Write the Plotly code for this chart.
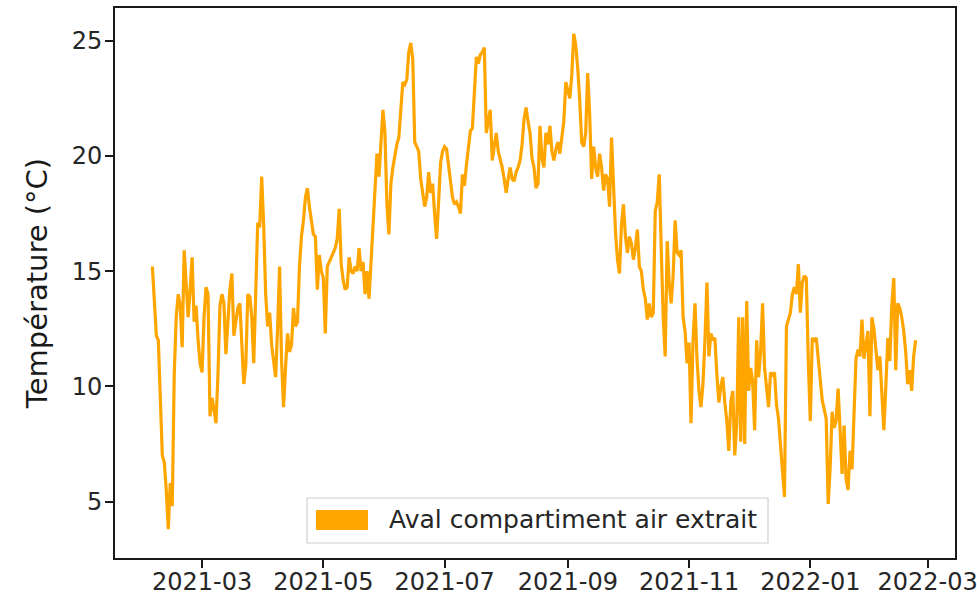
import pandas as pd
import plotly.graph_objects as go

# daily air temperature downstream of the extract air compartment (°C)
start_date = "2021-02-04"
temperature = [
    15.2, 13.6, 12.2, 12.0, 9.5, 7.0, 6.7, 5.5, 3.8, 5.8,
    4.8, 10.5, 13.0, 14.0, 13.5, 11.7, 15.9, 14.5, 13.0, 14.2,
    15.6, 12.8, 13.5, 12.0, 11.0, 10.6, 13.0, 14.3, 14.0, 8.7,
    9.5, 9.0, 8.4, 10.5, 13.5, 14.0, 13.6, 11.4, 13.0, 14.2,
    14.9, 12.2, 12.8, 13.4, 13.6, 11.7, 10.1, 10.9, 14.0, 13.9,
    13.0, 11.0, 14.5, 17.1, 16.9, 19.1, 17.0, 14.0, 12.6, 13.2,
    11.8, 11.1, 10.4, 12.5, 15.2, 11.1, 9.1, 10.8, 12.3, 11.5,
    11.8, 13.4, 12.6, 12.8, 15.2, 16.5, 17.2, 18.2, 18.6, 17.8,
    17.3, 16.6, 16.5, 14.2, 15.7, 15.0, 14.7, 12.3, 15.2, 15.4,
    15.6, 15.8, 16.0, 16.4, 17.7, 15.3, 14.6, 14.2, 14.3, 15.6,
    15.0, 14.9, 15.2, 15.0, 16.0, 15.0, 15.4, 14.0, 15.0, 13.8,
    15.4, 16.8, 18.5, 20.1, 19.1, 20.5, 22.0, 21.0, 17.9, 16.6,
    18.8, 19.5, 20.1, 20.5, 20.8, 21.8, 23.2, 23.1, 23.3, 24.5,
    24.9, 24.2, 20.6, 20.4, 20.2, 19.0, 18.5, 17.8, 18.2, 19.3,
    18.4, 18.8, 17.5, 16.4, 18.0, 19.7, 20.2, 20.4, 20.3, 19.5,
    18.8, 18.2, 17.9, 18.0, 17.8, 17.5, 19.2, 18.7, 19.6, 20.3,
    21.1, 21.2, 22.5, 24.3, 24.0, 24.4, 24.5, 24.7, 21.0, 21.5,
    22.0, 19.8, 20.4, 21.0, 20.2, 19.9, 19.5, 19.0, 18.4, 19.0,
    19.5, 19.0, 18.9, 19.3, 19.5, 19.8, 20.5, 21.6, 22.1, 21.5,
    21.0, 19.9, 19.5, 18.6, 18.8, 21.3, 19.9, 19.5, 21.0, 20.5,
    21.3, 20.2, 19.8, 20.3, 20.6, 20.1, 20.8, 21.5, 23.2, 22.8,
    22.5, 23.5, 25.3, 24.8, 23.8, 22.4, 20.6, 20.4, 21.0, 23.6,
    21.8, 19.0, 20.4, 19.5, 19.1, 20.1, 19.5, 18.5, 19.2, 19.0,
    17.8, 20.8, 18.4, 16.7, 15.5, 14.9, 17.0, 17.9, 16.5, 15.8,
    16.5, 16.2, 15.5, 16.0, 16.8, 15.2, 15.0, 14.2, 13.8, 12.9,
    13.6, 13.0, 13.2, 17.6, 18.0, 19.2, 16.0, 13.0, 11.3, 16.3,
    14.5, 13.6, 14.8, 17.2, 15.8, 15.7, 15.9, 13.0, 12.4, 11.0,
    11.9, 8.4, 12.0, 13.6, 11.2, 9.8, 9.1, 10.1, 12.0, 14.5,
    11.3, 12.3, 12.0, 12.1, 10.5, 9.3, 10.0, 10.4, 9.3, 8.5,
    7.2, 9.3, 9.8, 7.0, 8.4, 13.0, 7.6, 13.0, 7.5, 13.7,
    9.8, 10.8, 10.2, 8.1, 12.0, 10.4, 11.5, 13.6, 10.8, 10.0,
    9.1, 10.6, 10.5, 10.6, 9.2, 8.6, 7.6, 6.5, 5.2, 12.6,
    12.9, 13.2, 14.0, 14.3, 14.0, 15.3, 13.2, 14.5, 14.8, 14.7,
    11.1, 8.5, 12.1, 12.0, 12.1, 11.3, 10.5, 9.4, 9.0, 8.6,
    4.9, 6.5, 8.9, 8.2, 8.5, 9.9, 8.1, 6.2, 8.3, 6.0,
    5.5, 7.2, 6.4, 9.0, 11.2, 11.6, 11.3, 12.9, 11.2, 11.8,
    12.4, 8.7, 13.0, 12.5, 11.6, 10.7, 11.3, 9.5, 8.1, 10.0,
    12.1, 11.1, 13.5, 14.7, 10.7, 13.6, 13.4, 13.0, 12.4, 11.5,
    10.1, 10.7, 9.8, 11.3, 12.0,
]
series_name = "Aval compartiment air extrait"
y_ticks = [5, 10, 15, 20, 25]

dates = pd.date_range(start_date, periods=len(temperature), freq="D")

fig = go.Figure()
fig.add_trace(
    go.Scatter(
        x=dates,
        y=temperature,
        mode="lines",
        name=series_name,
        line=dict(color="#FFA500", width=3.2),
        showlegend=False,
    )
)

axis_style = dict(
    showline=True,
    linecolor="#1a1a1a",
    linewidth=1.8,
    mirror=True,
    showgrid=False,
    zeroline=False,
    automargin=False,
    ticks="outside",
    ticklen=8,
    tickwidth=1.8,
    tickcolor="#1a1a1a",
    tickfont=dict(size=24, color="#262626"),
)

fig.update_xaxes(
    **axis_style,
    range=["2021-01-16 04:48", "2022-03-14 19:12"],
    tick0="2021-03-01",
    dtick="M2",
    tickformat="%Y-%m",
    ticklabelstandoff=-7,
    ticklabeloverflow="allow",
)
fig.update_yaxes(
    **axis_style,
    range=[2.55, 26.42],
    tickvals=y_ticks,
    ticklabelstandoff=-2,
    title=dict(text="Température (°C)", font=dict(size=29, color="#1a1a1a"), standoff=16),
)

# matplotlib-style legend with a filled patch
legend_box = dict(type="rect", xref="paper", yref="paper", layer="above")
fig.add_shape(
    **legend_box,
    x0=0.2286, x1=0.7774, y0=0.0273, y1=0.1091,
    line=dict(color="#d0d0d0", width=1.2),
    fillcolor="rgba(255,255,255,0.8)",
)
fig.add_shape(
    **legend_box,
    x0=0.2393, x1=0.3012, y0=0.0509, y1=0.0873,
    line=dict(width=0),
    fillcolor="#FFA500",
)
fig.add_annotation(
    x=0.3238, y=0.0691, xref="paper", yref="paper",
    text=series_name, showarrow=False,
    xanchor="left", yanchor="middle",
    font=dict(size=25, color="#262626"),
)

fig.update_layout(
    width=977,
    height=605,
    margin=dict(l=115, r=22, t=8, b=47),
    paper_bgcolor="white",
    plot_bgcolor="white",
    font=dict(family="DejaVu Sans"),
)

# drop the default 8px page margin so the figure fills the window exactly
fig.write_html(
    "out.html",
    config={"displayModeBar": False},
    post_script="document.body.style.margin = '0'; document.body.style.overflow = 'hidden';",
)
